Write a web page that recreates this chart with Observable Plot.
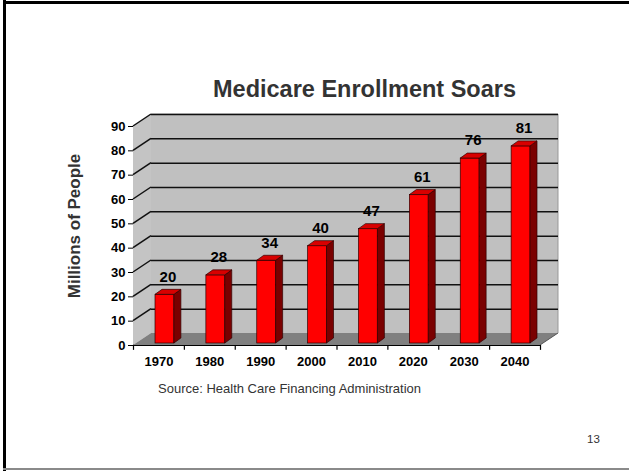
<!DOCTYPE html>
<html><head><meta charset="utf-8">
<script src="https://cdn.jsdelivr.net/npm/d3@7"></script>
<script src="https://cdn.jsdelivr.net/npm/@observablehq/plot@0.6"></script>
<style>
body{margin:0;background:#fff;}
#page{position:relative;width:629px;height:471px;overflow:hidden;font-family:"Liberation Sans",Arial,sans-serif;background:#fff;}
#chart{position:absolute;left:0;top:0;}
.bl{position:absolute;left:3px;top:0;width:3px;height:471px;background:#000;}
.bt{position:absolute;left:3px;top:1px;width:626px;height:3px;background:#000;}
.bb{position:absolute;left:3px;top:468px;width:626px;height:2px;background:#8a8a8a;}
#title{position:absolute;left:0;width:729px;top:76px;text-align:center;font-weight:bold;font-size:23.5px;color:#333;}
#ylab{position:absolute;left:75px;top:226px;transform:translate(-50%,-50%) rotate(-90deg);white-space:nowrap;font-weight:bold;font-size:17px;color:#333;}
#source{position:absolute;left:158px;top:381px;font-size:13px;color:#333;}
#pnum{position:absolute;left:587px;top:433px;font-size:11.5px;color:#333;}
</style></head><body>
<div id="page">
  <div id="chart"></div>
  <div class="bl"></div><div class="bt"></div><div class="bb"></div>
  <div id="title">Medicare Enrollment Soars</div>
  <div id="ylab">Millions of People</div>
  <div id="source">Source: Health Care Financing Administration</div>
  <div id="pnum">13</div>
</div>
<script>
const years = ["1970","1980","1990","2000","2010","2020","2030","2040"];
const enrollment = [20, 28, 34, 40, 47, 61, 76, 81];
const yTicks = [0, 10, 20, 30, 40, 50, 60, 70, 80, 90];

const data = years.map((year, i) => ({year, i, value: enrollment[i]}));
const DX = 18, DY = -12;      // depth of the chart box
const BDX = 7, BDY = -5;      // depth of each bar
const BAR_SHIFT = 6, BAR_LIFT = -2, INSET = 16;
const NS = "http://www.w3.org/2000/svg";

function poly(g, pts, fill, stroke, sw) {
  const p = document.createElementNS(NS, "polygon");
  p.setAttribute("points", pts.map(d => d.join(",")).join(" "));
  p.setAttribute("fill", fill);
  if (stroke) { p.setAttribute("stroke", stroke); p.setAttribute("stroke-width", sw || 1); }
  g.appendChild(p);
}
function line(g, x1, y1, x2, y2, stroke, sw) {
  const l = document.createElementNS(NS, "line");
  l.setAttribute("x1", x1); l.setAttribute("y1", y1);
  l.setAttribute("x2", x2); l.setAttribute("y2", y2);
  l.setAttribute("stroke", stroke); l.setAttribute("stroke-width", sw);
  g.appendChild(l);
}

// walls and floor of the 3D box
const walls = (index, scales) => {
  const g = document.createElementNS(NS, "g");
  const x = scales.x, y = scales.y;
  const x0 = x(0), x1 = x(years.length);
  const y0 = y(0), yT = y(yTicks[yTicks.length - 1]);
  poly(g, [[x0, y0], [x0, yT], [x0 + DX, yT + DY], [x0 + DX, y0 + DY]], "#c4c4c4");
  poly(g, [[x0 + DX, y0 + DY], [x0 + DX, yT + DY], [x1 + DX, yT + DY], [x1 + DX, y0 + DY]], "#c0c0c0");
  poly(g, [[x0, y0], [x1, y0], [x1 + DX, y0 + DY], [x0 + DX, y0 + DY]], "#808080");
  line(g, x1, y0, x1 + DX, y0 + DY, "#555", 1);
  line(g, x1 + DX, y0 + DY, x1 + DX, yT + DY, "#999", 1);
  line(g, x0 + DX, yT + DY, x1 + DX, yT + DY, "#aaa", 1);
  for (const t of yTicks.slice(1)) line(g, x0, y(t), x0 + DX, y(t) + DY, "#111", 1.5);
  return g;
};

// side and top faces of the bars
const barFaces = (index, scales) => {
  const g = document.createElementNS(NS, "g");
  const x = scales.x, y = scales.y;
  for (const d of data) {
    const xl = x(d.i) + INSET + BAR_SHIFT, xr = x(d.i + 1) - INSET + BAR_SHIFT;
    const yt = y(d.value) + BAR_LIFT, yb = y(0) + BAR_LIFT;
    poly(g, [[xr, yt], [xr + BDX, yt + BDY], [xr + BDX, yb + BDY], [xr, yb]], "#7a0000", "#300000", 0.7);
    poly(g, [[xl, yt], [xr, yt], [xr + BDX, yt + BDY], [xl + BDX, yt + BDY]], "#d80000", "#300000", 0.7);
  }
  return g;
};

const chart = Plot.plot({
  width: 629,
  height: 471,
  marginLeft: 133,
  marginRight: 89,
  marginTop: 126,
  marginBottom: 126,
  style: {fontFamily: "'Liberation Sans', Arial, sans-serif", fontWeight: "bold", background: "transparent", color: "#000"},
  x: {domain: [0, years.length], ticks: years.map((_, i) => i + 0.5), tickFormat: v => years[Math.floor(v)], tickSize: 0, tickPadding: 11, label: null},
  y: {domain: [0, 90], ticks: yTicks, tickSize: 5, tickPadding: 3, label: null, line: true},
  marks: [
    walls,
    Plot.ruleY(yTicks.slice(1), {dx: DX, dy: DY, stroke: "#111", strokeWidth: 1.5}),
    Plot.rect(data, {x1: "i", x2: d => d.i + 1, y1: 0, y2: "value", insetLeft: INSET, insetRight: INSET, dx: BAR_SHIFT, dy: BAR_LIFT, fill: "#ff0000", stroke: "#300000", strokeWidth: 0.7}),
    barFaces,
    Plot.text(data, {x: d => d.i + 0.5, y: "value", text: d => String(d.value), dx: 9, dy: -20, fontSize: 15, fontWeight: "bold", fill: "#000"}),
    Plot.ruleY([0], {stroke: "#000", strokeWidth: 1.2}),
    Plot.ruleX(d3.range(years.length + 1), {y1: 0, y2: -2, stroke: "#000", strokeWidth: 1.2})
  ]
});
document.getElementById("chart").appendChild(chart);
chart.querySelectorAll('g[aria-label="y-axis tick label"] text, g[aria-label="y-axis"] text').forEach(t => t.setAttribute("font-size", "13"));
chart.querySelectorAll('g[aria-label="x-axis tick label"] text, g[aria-label="x-axis"] text').forEach(t => t.setAttribute("font-size", "13"));
</script>
</body></html>
